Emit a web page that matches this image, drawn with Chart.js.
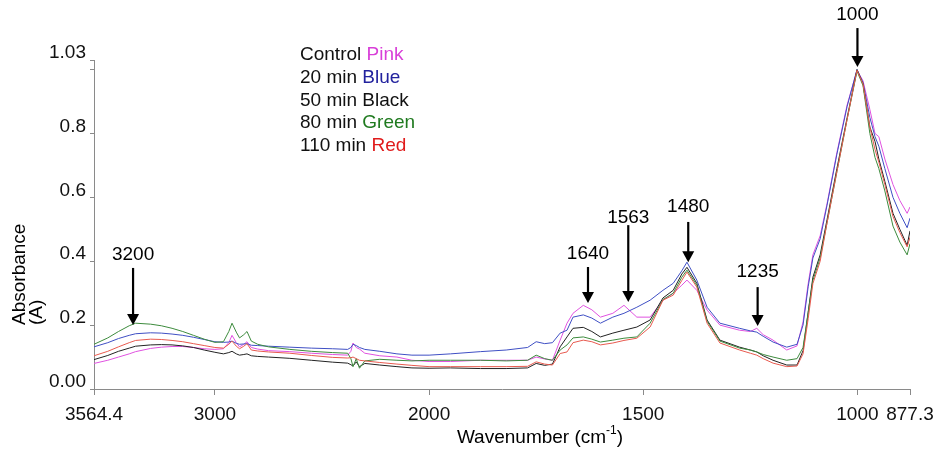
<!DOCTYPE html>
<html>
<head>
<meta charset="utf-8">
<script src="https://cdn.jsdelivr.net/npm/chart.js@4.4.1/dist/chart.umd.min.js"></script>
<style>
  html, body { margin: 0; padding: 0; background: #fff; }
  #chart { display: block; }
</style>
</head>
<body>
<canvas id="chart" width="942" height="454"></canvas>
<script>
// FTIR spectra, absorbance vs wavenumber (axis compressed 2:1 above 2000 cm-1)
const wavenumbers = [
  3564.4, 3500, 3450, 3400, 3370, 3300, 3250, 3200, 3150, 3100,
  3050, 3000, 2960, 2935, 2920, 2900, 2885, 2865, 2850, 2830,
  2800, 2750, 2650, 2550, 2450, 2380, 2365, 2355, 2340, 2325,
  2300, 2230, 2150, 2080, 2000, 1950, 1880, 1820, 1770, 1750,
  1730, 1712, 1694, 1678, 1664, 1640, 1620, 1600, 1571, 1545,
  1515, 1484, 1454, 1430, 1410, 1398, 1375, 1351, 1321, 1275,
  1250, 1235, 1220, 1197, 1165, 1141, 1127, 1115, 1104, 1087,
  1071, 1048, 1024, 1001, 987, 971, 959, 950, 936, 917,
  901, 884, 877.3
];

const controlPink = [
  .080, .090, .100, .110, .117, .127, .131, .133, .133, .130,
  .126, .124, .126, .145, .168, .145, .132, .140, .148, .130,
  .125, .120, .117, .112, .108, .106, .118, .144, .130, .125,
  .112, .104, .100, .090, .086, .086, .090, .090, .090, .100,
  .094, .090, .153, .206, .237, .262, .248, .225, .237, .262,
  .225, .225, .278, .300, .325, .341, .309, .247, .200, .184,
  .180, .190, .170, .153, .122, .135, .210, .330, .420, .480,
  .580, .740, .890, .998, .965, .875, .800, .790, .720, .640,
  .590, .550, .570
];

const min20Blue = [
  .132, .145, .158, .168, .173, .176, .175, .172, .168, .162,
  .155, .148, .146, .147, .150, .143, .140, .141, .142, .137,
  .136, .134, .131, .128, .126, .124, .130, .140, .136, .130,
  .124, .118, .110, .106, .106, .110, .117, .122, .130, .148,
  .142, .145, .175, .184, .225, .232, .222, .206, .225, .237,
  .256, .278, .309, .331, .370, .397, .341, .256, .206, .190,
  .182, .178, .165, .147, .131, .140, .200, .320, .410, .470,
  .575, .735, .885, 1.000, .960, .850, .790, .760, .690, .600,
  .550, .505, .535
];

const min50Black = [
  .092, .105, .118, .128, .134, .138, .139, .138, .135, .130,
  .122, .115, .110, .114, .118, .110, .106, .108, .110, .104,
  .102, .100, .096, .090, .084, .081, .076, .072, .085, .070,
  .080, .075, .070, .066, .065, .066, .064, .064, .066, .080,
  .074, .078, .132, .163, .190, .193, .180, .163, .175, .184,
  .194, .216, .285, .309, .360, .381, .331, .216, .153, .131,
  .122, .116, .104, .090, .075, .075, .120, .240, .350, .420,
  .530, .690, .850, 1.000, .955, .820, .775, .720, .650, .550,
  .500, .450, .495
];

const min80Green = [
  .140, .160, .180, .198, .206, .203, .198, .190, .180, .168,
  .156, .146, .148, .180, .206, .178, .160, .170, .180, .150,
  .140, .132, .124, .118, .114, .112, .095, .070, .095, .065,
  .088, .093, .090, .088, .090, .090, .090, .088, .090, .106,
  .095, .090, .122, .138, .160, .163, .156, .147, .153, .159,
  .163, .206, .280, .300, .350, .372, .325, .212, .150, .128,
  .122, .116, .108, .100, .090, .095, .130, .240, .340, .410,
  .520, .680, .845, .995, .950, .800, .725, .690, .620, .510,
  .460, .420, .455
];

const min110Red = [
  .104, .118, .132, .145, .152, .156, .155, .152, .148, .142,
  .136, .130, .128, .140, .150, .134, .126, .134, .142, .122,
  .119, .116, .112, .105, .099, .097, .098, .100, .095, .090,
  .088, .083, .078, .074, .070, .070, .070, .070, .071, .085,
  .078, .075, .111, .116, .145, .153, .148, .138, .144, .152,
  .159, .194, .278, .294, .340, .366, .319, .206, .144, .122,
  .112, .106, .095, .081, .070, .072, .110, .220, .330, .400,
  .520, .680, .845, .998, .955, .820, .750, .710, .640, .540,
  .490, .445, .475
];

const xTickValues = [3564.4, 3000, 2000, 1500, 1000, 877.3];
const xTickLabels = ["3564.4", "3000", "2000", "1500", "1000", "877.3"];
const yTickValues = [0, 0.2, 0.4, 0.6, 0.8, 1.0, 1.03];
const yTickLabels = ["0.00", "0.2", "0.4", "0.6", "0.8", "", "1.03"];

const legendPrefixes = ["Control", "20 min", "50 min", "80 min", "110 min"];
const legendWords    = ["Pink", "Blue", "Black", "Green", "Red"];

// peak markers: label, where the arrow stands, tip / tail / label heights (absorbance)
const peakLabels = ["3200", "1640", "1563", "1480", "1235", "1000"];
const peakAt     = [3382, 1629, 1535, 1395, 1233, 1000];
const peakTip    = [0.200, 0.269, 0.272, 0.397, 0.197, 1.008];
const peakTail   = [0.379, 0.382, 0.513, 0.523, 0.319, 1.130];
const peakText   = [0.420, 0.423, 0.535, 0.570, 0.366, 1.171];

const FONT = '"Liberation Sans", Arial, sans-serif';
const lineColors = ["#e052e0", "#3f4fc4", "#222222", "#3d8b3d", "#e85a4f"];
const wordColors = ["#d83fd8", "#22229e", "#111111", "#1f7a1f", "#e01b1b"];

// linear scale whose upper part (> 2000) is drawn at half density
const SPLIT = 2000;
function warp(v) { return v > SPLIT ? SPLIT + (v - SPLIT) / 2 : v; }
function unwarp(u) { return u > SPLIT ? SPLIT + (u - SPLIT) * 2 : u; }

class SplitScale extends Chart.LinearScale {
  configure() {
    super.configure();
    this._startValue = warp(this.min);
    this._endValue = warp(this.max);
    this._valueRange = this._endValue - this._startValue;
  }
  getPixelForValue(v) { return super.getPixelForValue(warp(v)); }
  getValueForPixel(p) { return unwarp(super.getValueForPixel(p)); }
}
SplitScale.id = "split";
SplitScale.defaults = {};
Chart.register(SplitScale);

function series(values) {
  return values.map((y, i) => ({ x: wavenumbers[i], y: y }));
}

const datasets = [controlPink, min20Blue, min50Black, min80Green, min110Red].map((vals, i) => ({
  label: legendPrefixes[i],
  data: series(vals),
  borderColor: lineColors[i],
  borderWidth: 1,
  pointRadius: 0,
  tension: 0,
  fill: false
}));
// draw order: the pink control on top like the original
datasets.reverse();

const overlay = {
  id: "overlay",
  afterDraw(chart) {
    const ctx = chart.ctx;
    const xs = chart.scales.x, ys = chart.scales.y;
    ctx.save();
    ctx.font = "19px " + FONT;
    ctx.fillStyle = "#000";

    // legend block
    ctx.textBaseline = "middle";
    ctx.textAlign = "left";
    legendPrefixes.forEach((p, i) => {
      const y = 55 + i * 22.75;
      ctx.fillStyle = "#111";
      ctx.fillText(p + " ", 300, y);
      const w = ctx.measureText(p + " ").width;
      ctx.fillStyle = wordColors[i];
      ctx.fillText(legendWords[i], 300 + w, y);
    });

    // peak arrows
    ctx.fillStyle = "#000";
    ctx.strokeStyle = "#000";
    ctx.lineWidth = 2.2;
    ctx.textAlign = "center";
    peakLabels.forEach((lab, i) => {
      const x = xs.getPixelForValue(peakAt[i]);
      const yTip = ys.getPixelForValue(peakTip[i]);
      const yTail = ys.getPixelForValue(peakTail[i]);
      ctx.beginPath();
      ctx.moveTo(x, yTail);
      ctx.lineTo(x, yTip - 10);
      ctx.stroke();
      ctx.beginPath();
      ctx.moveTo(x - 6, yTip - 11);
      ctx.lineTo(x + 6, yTip - 11);
      ctx.lineTo(x, yTip);
      ctx.closePath();
      ctx.fill();
      ctx.fillText(lab, x, ys.getPixelForValue(peakText[i]));
    });

    // y title, two lines
    ctx.save();
    ctx.translate(20, 325);
    ctx.rotate(-Math.PI / 2);
    ctx.textAlign = "left";
    ctx.fillText("Absorbance", 0, 0);
    ctx.fillText("(A)", 0, 17);
    ctx.restore();

    // x title with superscript
    const main = "Wavenumber (cm", sup = "-1", tail = ")";
    ctx.textAlign = "left";
    const wMain = ctx.measureText(main).width;
    const wTail = ctx.measureText(tail).width;
    ctx.font = "12px " + FONT;
    const wSup = ctx.measureText(sup).width;
    let x0 = 540 - (wMain + wSup + wTail) / 2;
    ctx.font = "19px " + FONT;
    ctx.fillText(main, x0, 438);
    ctx.font = "12px " + FONT;
    ctx.fillText(sup, x0 + wMain, 431);
    ctx.font = "19px " + FONT;
    ctx.fillText(tail, x0 + wMain + wSup, 438);
    ctx.restore();
  }
};

new Chart(document.getElementById("chart"), {
  type: "line",
  data: { datasets: datasets },
  options: {
    responsive: false,
    animation: false,
    layout: { padding: { top: 60, right: 32, left: 0, bottom: 0 } },
    plugins: { legend: { display: false }, tooltip: { enabled: false } },
    scales: {
      x: {
        type: "split",
        min: 877.3,
        max: 3564.4,
        reverse: true,
        afterBuildTicks: s => { s.ticks = xTickValues.map(v => ({ value: v })); },
        afterFit: s => { s.height = 65; },
        ticks: {
          callback: (v, i) => xTickLabels[i],
          autoSkip: false,
          maxRotation: 0,
          padding: 8,
          color: "#111",
          font: { family: FONT, size: 19 }
        },
        grid: { drawOnChartArea: false, drawTicks: true, tickLength: 6, color: "#8a8a8a" },
        border: { display: true, color: "#8a8a8a", width: 1 }
      },
      y: {
        type: "linear",
        min: 0,
        max: 1.03,
        afterBuildTicks: s => { s.ticks = yTickValues.map(v => ({ value: v })); },
        afterFit: s => { s.width = 94; },
        ticks: {
          callback: (v, i) => yTickLabels[i],
          autoSkip: false,
          padding: 4,
          labelOffset: -7,
          color: "#111",
          font: { family: FONT, size: 19 }
        },
        grid: { drawOnChartArea: false, drawTicks: true, tickLength: 4, color: "#8a8a8a" },
        border: { display: true, color: "#8a8a8a", width: 1 }
      }
    }
  },
  plugins: [overlay]
});
</script>
</body>
</html>
